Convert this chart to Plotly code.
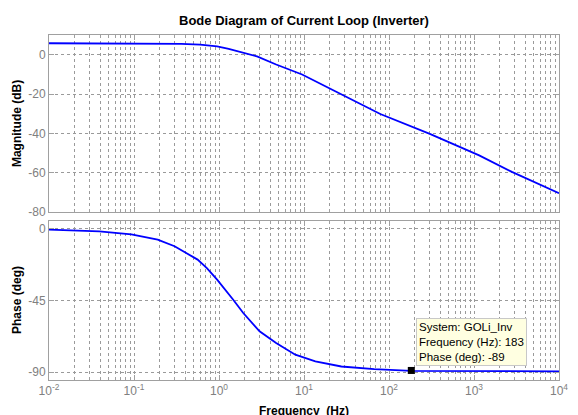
import math
import plotly.graph_objects as go

# ---- data ----
freq_mag = [0.01, 0.03, 0.113, 0.36, 0.6, 0.95, 1.3, 1.6, 2.1, 2.8, 4.7, 9.5, 23, 79, 302, 1150, 2790, 10000]
mag_db = [5.8, 5.8, 5.7, 5.5, 5.1, 4.2, 3.0, 2.0, 0.7, -0.9, -5.0, -10.1, -18.5, -30.2, -40.3, -51.2, -59.6, -70.5]

freq_ph = [0.01, 0.039, 0.093, 0.19, 0.30, 0.56, 0.72, 0.95, 1.47, 1.93, 3.0, 4.7, 7.9, 13.6, 27.5, 67, 183, 10000]
phase_deg = [-0.4, -1.5, -3.4, -6.7, -10.9, -19.3, -24.6, -31.9, -44.5, -52.9, -64.4, -71.8, -79.1, -83.3, -86.5, -88.1, -89.2, -89.6]

tip_freq = 183
tip_phase = -89
tip_system = "GOLi_Inv"

decades = [-2, -1, 0, 1, 2, 3, 4]
mag_ticks = [-80, -60, -40, -20, 0]
phase_ticks = [-90, -45, 0]

# ---- styling ----
FONT = "Liberation Sans, Arial, sans-serif"
GRID = "#9a9a9a"
AXIS = "#a0a0a0"
TICKC = "#808080"

major_vals = [10 ** d for d in decades]
major_text = ["10<sup>%d</sup>" % d for d in decades]
minor_vals = [m * 10 ** d for d in decades[:-1] for m in range(2, 10)]

fig = go.Figure()
fig.add_trace(go.Scatter(x=freq_mag, y=mag_db, mode="lines", xaxis="x", yaxis="y",
                         line=dict(color="#0000ff", width=1.8), showlegend=False))
fig.add_trace(go.Scatter(x=freq_ph, y=phase_deg, mode="lines", xaxis="x2", yaxis="y2",
                         line=dict(color="#0000ff", width=1.8), showlegend=False))
fig.add_trace(go.Scatter(x=[tip_freq], y=[tip_phase], mode="markers", xaxis="x2", yaxis="y2",
                         marker=dict(symbol="square", size=7, color="black"), showlegend=False))

def xaxis_cfg(show_labels):
    return dict(
        type="log", range=[-2, 4], tickmode="array", tickvals=major_vals,
        ticktext=major_text if show_labels else [""] * len(major_vals),
        ticklabeloverflow="allow",
        showgrid=True, gridcolor=GRID, griddash="dot", gridwidth=1,
        ticks="inside", ticklen=5, tickcolor=AXIS,
        showline=True, linecolor=AXIS, linewidth=1, mirror="ticks",
        zeroline=False,
        minor=dict(tickmode="array", tickvals=minor_vals, showgrid=True, gridcolor=GRID,
                   griddash="dot", gridwidth=1, ticks="inside", ticklen=3, tickcolor=AXIS),
        tickfont=dict(family=FONT, size=12, color=TICKC),
    )

def yaxis_cfg(rng, ticks, domain):
    return dict(
        range=rng, tickmode="array", tickvals=ticks, ticktext=[str(t) for t in ticks],
        domain=domain,
        showgrid=True, gridcolor=GRID, griddash="dot", gridwidth=1,
        ticks="inside", ticklen=5, tickcolor=AXIS,
        showline=True, linecolor=AXIS, linewidth=1, mirror="ticks",
        zeroline=False,
        tickfont=dict(family=FONT, size=12, color=TICKC),
    )

xa = xaxis_cfg(False)
xa["anchor"] = "y"
xa2 = xaxis_cfg(True)
xa2["anchor"] = "y2"
xa2["matches"] = "x"

fig.update_layout(
    width=578, height=415,
    margin=dict(l=49, r=10, t=35, b=35),
    paper_bgcolor="white", plot_bgcolor="white",
    xaxis=xa, xaxis2=xa2,
    yaxis=dict(yaxis_cfg([-80, 10], mag_ticks, [0.487, 1.0]), anchor="x"),
    yaxis2=dict(yaxis_cfg([-95, 5], phase_ticks, [0.0, 0.461]), anchor="x2"),
    title=dict(text="<b>Bode Diagram of Current Loop (Inverter)</b>", x=0.5, xref="paper",
               y=1 - 20 / 415, yref="container", yanchor="middle",
               font=dict(family=FONT, size=13, color="black")),
    font=dict(family=FONT),
)

fig.add_annotation(text="<b>Magnitude (dB)</b>", xref="paper", yref="paper",
                   x=-32 / 519, y=(0.487 + 1.0) / 2, textangle=-90, showarrow=False,
                   xanchor="center", yanchor="middle",
                   font=dict(family=FONT, size=12, color="black"))
fig.add_annotation(text="<b>Phase (deg)</b>", xref="paper", yref="paper",
                   x=-32 / 519, y=0.461 / 2, textangle=-90, showarrow=False,
                   xanchor="center", yanchor="middle",
                   font=dict(family=FONT, size=12, color="black"))
fig.add_annotation(text="<b>Frequency  (Hz)</b>", xref="paper", yref="paper",
                   x=0.5, y=0, yanchor="top", xanchor="center", yshift=-22, showarrow=False,
                   font=dict(family=FONT, size=12, color="black"))

fig.add_annotation(
    text="System: %s<br>Frequency (Hz): %d<br>Phase (deg): %d" % (tip_system, tip_freq, tip_phase),
    xref="x2", yref="y2", x=math.log10(tip_freq), y=tip_phase,
    xanchor="left", yanchor="bottom", xshift=5, yshift=4, showarrow=False, align="left",
    bgcolor="#ffffe1", bordercolor="#c8c8c8", borderwidth=1, borderpad=2,
    font=dict(family=FONT, size=11.5, color="black"),
)

fig.write_html("out.html", config={"displayModeBar": False},
               post_script="document.body.style.margin='0';document.documentElement.style.overflow='hidden';")
